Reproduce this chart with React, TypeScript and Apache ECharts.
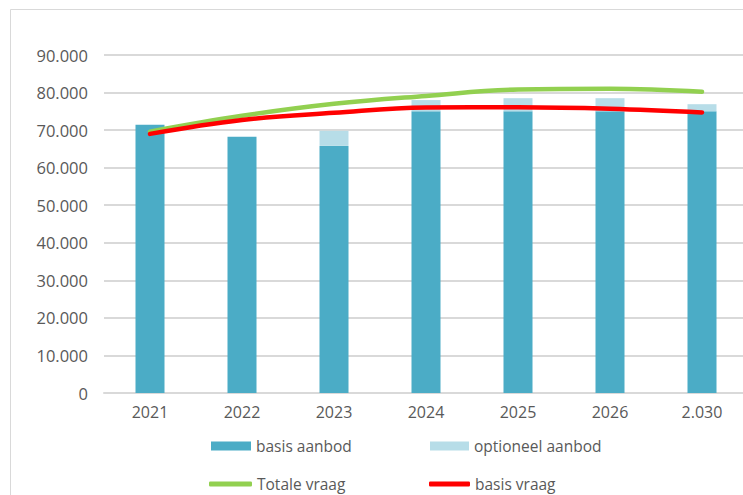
import React, { useEffect, useRef } from "react";
import * as echarts from "echarts";

const categories = ["2021", "2022", "2023", "2024", "2025", "2026", "2.030"];
const basisAanbod = [71400, 68200, 65800, 75000, 75000, 75000, 75000];
const optioneelAanbod = [0, 0, 4000, 3000, 3500, 3500, 1900];
const totaleVraag = [69600, 73800, 77000, 79100, 80800, 81000, 80200];
const basisVraag = [69000, 72700, 74600, 76000, 76100, 75700, 74700];
const yTicks = { min: 0, max: 90000, interval: 10000 };

const TEXT = "#595959";
const FONT = "'Open Sans', 'Noto Sans', sans-serif";

function fmt(v: number): string {
  return String(v).replace(/\B(?=(\d{3})+(?!\d))/g, ".");
}

export default function App() {
  const ref = useRef<HTMLDivElement>(null);
  useEffect(() => {
    if (!ref.current) return;
    const chart = echarts.init(ref.current, undefined, { renderer: "svg" });
    const legendText = { color: TEXT, fontSize: 15.5, fontFamily: FONT };
    chart.setOption({
      animation: false,
      backgroundColor: "#ffffff",
      graphic: [
        {
          type: "rect",
          z: -10,
          shape: { x: 10.5, y: 9.5, width: 900, height: 700 },
          style: { fill: "none", stroke: "#d9d9d9", lineWidth: 1 },
        },
      ],
      grid: { left: 104, top: 55, width: 644, height: 338, containLabel: false },
      xAxis: {
        type: "category",
        data: categories,
        axisLine: { show: true, lineStyle: { color: "#d9d9d9", width: 2 } },
        axisTick: { show: false },
        axisLabel: { color: TEXT, fontSize: 16, fontFamily: FONT, margin: 11 },
      },
      yAxis: {
        type: "value",
        min: yTicks.min,
        max: yTicks.max,
        interval: yTicks.interval,
        axisLine: { show: false },
        axisTick: { show: false },
        splitLine: { lineStyle: { color: "#d9d9d9", width: 2 } },
        axisLabel: {
          color: TEXT,
          fontSize: 16.5,
          fontFamily: FONT,
          margin: 16,
          formatter: (v: number) => fmt(v),
        },
      },
      legend: [
        { left: 206, top: 433, itemWidth: 40, itemHeight: 9, itemGap: 5, icon: "rect", textStyle: legendText, data: ["basis aanbod"] },
        { left: 425, top: 433, itemWidth: 39, itemHeight: 9, itemGap: 5, icon: "rect", textStyle: legendText, data: ["optioneel aanbod"] },
        { left: 204, top: 471, itemWidth: 43, itemHeight: 5, itemGap: 4, icon: "roundRect", textStyle: legendText, data: ["Totale vraag"] },
        { left: 424, top: 471, itemWidth: 41, itemHeight: 5, itemGap: 4, icon: "roundRect", textStyle: legendText, data: ["basis vraag"] },
      ],
      series: [
        {
          name: "basis aanbod",
          type: "bar",
          stack: "aanbod",
          barWidth: 29,
          data: basisAanbod,
          itemStyle: { color: "#4BACC6" },
        },
        {
          name: "optioneel aanbod",
          type: "bar",
          stack: "aanbod",
          barWidth: 29,
          data: optioneelAanbod,
          itemStyle: { color: "#B7DDE8" },
        },
        {
          name: "Totale vraag",
          type: "line",
          data: totaleVraag,
          smooth: 0.4,
          symbol: "none",
          z: 5,
          lineStyle: { color: "#92D050", width: 4.5, cap: "round" },
          itemStyle: { color: "#92D050" },
        },
        {
          name: "basis vraag",
          type: "line",
          data: basisVraag,
          smooth: 0.4,
          symbol: "none",
          z: 6,
          lineStyle: { color: "#FF0000", width: 4.5, cap: "round" },
          itemStyle: { color: "#FF0000" },
        },
      ],
    });
    return () => chart.dispose();
  }, []);
  return (
    <div
      ref={ref}
      style={{ position: "fixed", left: 0, top: 0, width: 760, height: 495, background: "#fff" }}
    />
  );
}
